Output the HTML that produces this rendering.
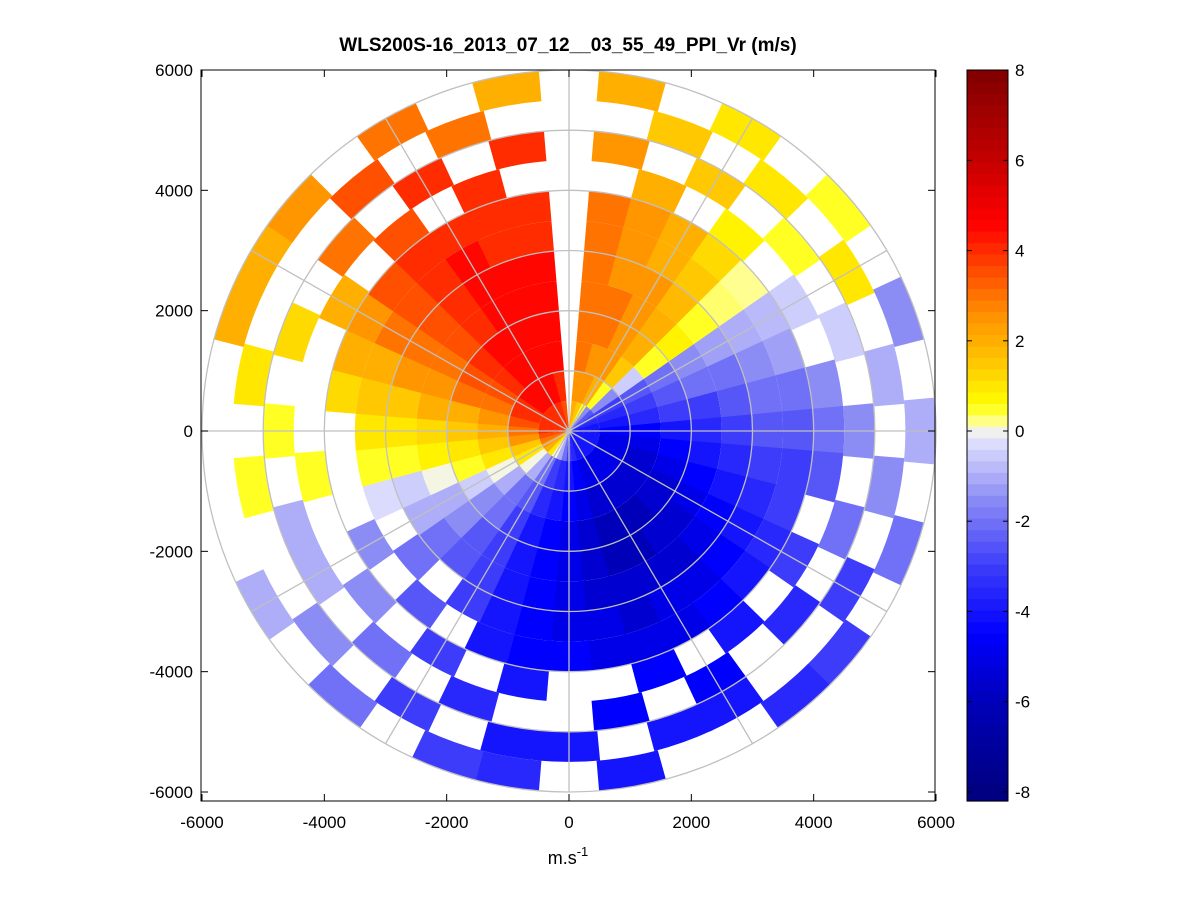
<!DOCTYPE html>
<html><head><meta charset="utf-8">
<style>
body{margin:0;background:#fff;}
svg{display:block;font-family:"Liberation Sans",sans-serif;}
</style></head>
<body>
<svg id="chart" width="1201" height="901" viewBox="0 0 1201 901" xmlns="http://www.w3.org/2000/svg">
<rect x="0" y="0" width="1201" height="901" fill="#fff"/>
<text x="568" y="51" text-anchor="middle" font-size="19" font-weight="bold">WLS200S-16_2013_07_12__03_55_49_PPI_Vr (m/s)</text>
<g id="cells"></g>
<g id="grid"></g>
<rect x="201" y="70" width="734" height="731" fill="none" stroke="#000" stroke-width="1"/>
<g id="axes"></g>
<text x="568" y="864" text-anchor="middle" font-size="18">m.s<tspan dy="-8" font-size="13">-1</tspan></text>
<g id="cbar"></g>
</svg>
<script>
// range bins (m) and azimuth bin centers (deg, clockwise from north)
const rangeEdges = [0,500,1000,1500,2000,2500,3000,3500,4000,4500,5000,5500,6000];
const azimuths = [0,10,20,30,40,50,60,70,80,90,100,110,120,130,140,150,160,170,180,190,200,210,220,230,240,250,260,270,280,290,300,310,320,330,340,350];
const N = null;
const vr = [
[N,N,N,N,N,N,N,N,N,N,N,N],
[2,2.5,3,3,3,3,3,3,N,2.5,N,2],
[1.5,2.5,2.5,3,3,2.5,2.5,2.5,2,N,1.5,N],
[0.5,2,2.5,2.5,2.5,2.5,2,2,N,1.5,N,1],
[-1.5,0.5,1.5,2,2,1.8,1.5,1.2,0.8,N,1,N],
[-2.5,-1.5,-0.5,0.5,0.8,0.5,0.3,0.2,N,0.5,N,0.5],
[-3,-3,-2.5,-2,-1.5,-1.2,-1,-0.8,-0.5,N,1,N],
[-3.5,-3.5,-3,-2.5,-2,-2,-1.5,-1.2,N,-0.5,N,-1.5],
[-4,-4,-3.5,-3,-3,-2.5,-2,-2,-1.5,N,-1,N],
[-4,-4.5,-4.5,-4,-3.5,-3,-2.5,-2.5,-2,-1.5,N,-1],
[-4,-5,-5,-4.5,-4,-3.5,-3,-3,-2.5,N,-1.5,N],
[-4,-5,-5.5,-5,-4.5,-4,-3.5,-3,N,-2,N,-2],
[-4,-5,-5.5,-5.5,-5,-4.5,-4,-3.5,-3,N,-3,N],
[-4,-5,-5.5,-5.5,-5.5,-5,-4.5,-4,N,-3.5,N,-3],
[-4,-5,-5.5,-6,-5.5,-5.5,-5,-4.5,-4,N,N,-3.5],
[-4,-5,-5.5,-6,-6,-5.5,-5,-5,N,-4.5,-4,N],
[-4,-5,-5.5,-6,-6,-5.5,-5.5,-5,-4.5,N,-4,N],
[-3.5,-4.5,-5,-5.5,-5.5,-5.5,-5,-5,N,-4.5,N,-4],
[-3,-4,-4.5,-5,-5,-5,-5,-4.5,N,N,-4,N],
[-2,-3.5,-4,-4.5,-4.5,-4.5,-4.5,-4.5,-4,N,-4,-3.5],
[-1,-3,-3.5,-4,-4,-4,-4,-4,N,-3.5,N,-3],
[0,-2,-2.5,-3,-3,-3,-3,N,-3,N,-3,N],
[1,-1,-2,-2,-2.5,-2.5,N,-2.5,N,-2,N,-2],
[2,0,-1,-1.5,-1.5,-2,-2,N,-1.5,N,-1.5,N],
[2.5,1,0,-0.5,-1,-1,N,-1.5,N,-1,N,-1],
[3,1.5,1,0.5,0,-0.5,-0.3,N,N,-1,N,N],
[3.5,2.5,1.5,1,0.8,0.5,0.5,N,0.5,N,0.5,N],
[4,3,2,1.5,1.2,1,1,N,N,0.5,N,N],
[4,3.5,2.5,2,2,1.5,1.5,1.2,N,N,1,N],
[4,4,3,3,2.5,2.5,2,2,N,1.2,N,2],
[4,4,3.5,3.5,3,3,3,2.5,2,N,N,2],
[4,4.5,4,4,3.5,3.5,3.5,3.5,N,3,N,2.5],
[4,4.5,4.5,4.5,4,4,4,4,3.5,N,3.5,N],
[4,4.5,4.5,4.5,4.5,4.5,4.5,4,N,4,N,3],
[4,4.5,4.5,4.5,4.5,4.5,4,4,4,N,3,N],
[3.5,4,4.5,4.5,4.5,4.5,4,4,N,4,N,2]
];
const xTicks = [-6000,-4000,-2000,0,2000,4000,6000];
const yTicks = [-6000,-4000,-2000,0,2000,4000,6000];
const cbTicks = [-8,-6,-4,-2,0,2,4,6,8];
const ringRanges = [1000,2000,3000,4000,5000,6000];
const spokeAngles = [0,30,60,90,120,150,180,210,240,270,300,330];

const NS = "http://www.w3.org/2000/svg";
const CX = 569, CY = 431, SX = 367/6000, SY = 361/6000;
function px(x){return CX + x*SX;}
function py(y){return CY - y*SY;}
function pol(r,az){const a=az*Math.PI/180;return [px(r*Math.sin(a)),py(r*Math.cos(a))];}
const stops=[[-8,[0,0,128]],[-6,[0,0,185]],[-4.5,[0,0,255]],[-3,[60,60,250]],[-1.5,[140,140,245]],[-0.05,[235,235,255]],[0.05,[255,255,200]],[0.6,[255,255,0]],[1.5,[255,200,0]],[2.5,[255,150,0]],[3.5,[255,80,0]],[4.6,[255,0,0]],[6.2,[190,0,0]],[8,[128,0,0]]];
function color(v){
  if(v<=stops[0][0])return 'rgb('+stops[0][1]+')';
  for(let i=1;i<stops.length;i++){if(v<=stops[i][0]){const [a,ca]=stops[i-1],[b,cb]=stops[i];const t=(v-a)/(b-a);
    return 'rgb('+ca.map((c,k)=>Math.round(c+(cb[k]-c)*t)).join(',')+')';}}
  return 'rgb('+stops[stops.length-1][1]+')';
}
function el(tag,attrs,parent){const e=document.createElementNS(NS,tag);for(const k in attrs)e.setAttribute(k,attrs[k]);parent.appendChild(e);return e;}

const cells=document.getElementById('cells');
azimuths.forEach((az,i)=>{
  for(let j=0;j<rangeEdges.length-1;j++){
    const v=vr[i][j]; if(v===null)continue;
    const r0=rangeEdges[j],r1=rangeEdges[j+1],a0=az-5.3,a1=az+5.3;
    const p1=pol(r0,a0),p2=pol(r1,a0),p3=pol(r1,a1),p4=pol(r0,a1);
    const d=`M${p1}L${p2}A${r1*SX},${r1*SY} 0 0 1 ${p3}L${p4}A${r0*SX},${r0*SY} 0 0 0 ${p1}Z`;
    const c=el('path',{d:d,fill:color(v)},cells);
    
    
  }
});

const grid=document.getElementById('grid');
ringRanges.forEach(r=>{
  const e=el('ellipse',{cx:CX,cy:CY,rx:r*SX,ry:r*SY,fill:'none',stroke:'#c0c0c0','stroke-width':1.3},grid);
  
  
});
spokeAngles.forEach(a=>{
  const p=pol(6000,a);
  const e=el('line',{x1:CX,y1:CY,x2:p[0],y2:p[1],stroke:'#c0c0c0','stroke-width':1.3},grid);
  
  
});

const axes=document.getElementById('axes');
xTicks.forEach(t=>{
  const x=px(t);
  el('line',{x1:x,y1:801,x2:x,y2:794,stroke:'#000'},axes);
  el('line',{x1:x,y1:70,x2:x,y2:77,stroke:'#000'},axes);
  const tx=el('text',{x:x,y:828,'text-anchor':'middle','font-size':17},axes);
  tx.textContent=t;
  
  
});
yTicks.forEach(t=>{
  const y=py(t);
  el('line',{x1:201,y1:y,x2:208,y2:y,stroke:'#000'},axes);
  el('line',{x1:935,y1:y,x2:928,y2:y,stroke:'#000'},axes);
  const tx=el('text',{x:193,y:y+6,'text-anchor':'end','font-size':17},axes);
  tx.textContent=t;
  
  
});

const cb=document.getElementById('cbar');
const CB0=967,CBW=41,CBT=70,CBB=801;
function cy(v){return 431 - v*45.1;}
for(let k=0;k<64;k++){
  const v0=-8.3+k*(16.3/64),v1=v0+16.3/64;
  const y1=Math.max(CBT,cy(v1)),y0=Math.min(CBB,cy(v0));
  el('rect',{x:CB0,y:y1,width:CBW,height:y0-y1+0.6,fill:color((v0+v1)/2)},cb);
}
el('rect',{x:CB0,y:CBT,width:CBW,height:CBB-CBT,fill:'none',stroke:'#000'},cb);
cbTicks.forEach(t=>{
  const y=cy(t);
  el('line',{x1:CB0,y1:y,x2:CB0+5,y2:y,stroke:'#000'},cb);
  el('line',{x1:CB0+CBW,y1:y,x2:CB0+CBW-5,y2:y,stroke:'#000'},cb);
  const tx=el('text',{x:1015,y:y+6,'font-size':17},cb);
  tx.textContent=t;
  
  
});
</script>
</body></html>
